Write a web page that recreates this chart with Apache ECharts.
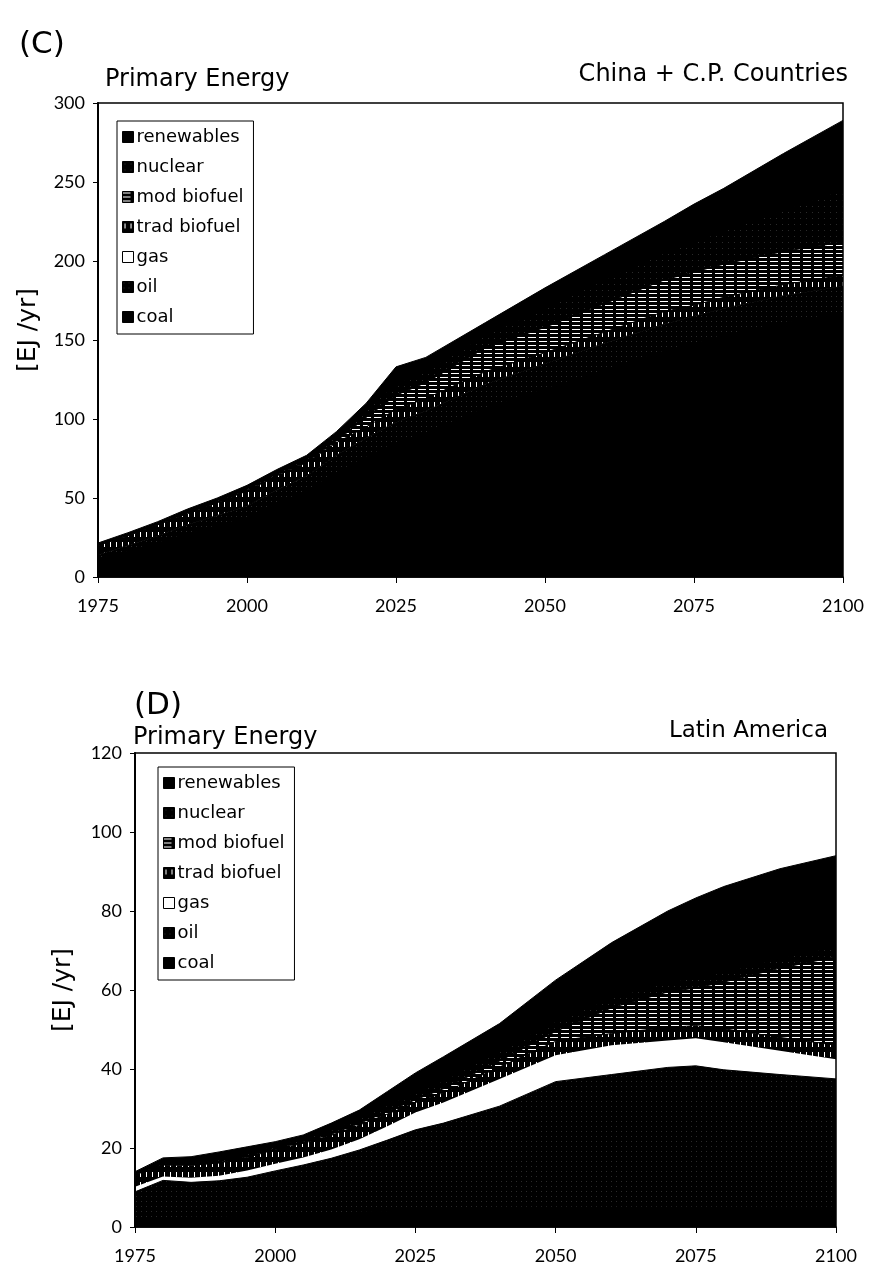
<!DOCTYPE html>
<html>
<head>
<meta charset="utf-8">
<script src="https://cdn.jsdelivr.net/npm/echarts@6/dist/echarts.min.js"></script>
<style>
  html, body { margin: 0; padding: 0; background: #fff; }
  #chart { width: 877px; height: 1266px; }
</style>
</head>
<body>
<div id="chart"></div>
<script>
// shared x values
const years = [1975, 1980, 1985, 1990, 1995, 2000, 2005, 2010, 2015, 2020, 2025, 2030, 2040, 2050, 2060, 2070, 2075, 2080, 2090, 2100];
const names = ['renewables', 'nuclear', 'mod biofuel', 'trad biofuel', 'gas', 'oil', 'coal'];

// (C) China + C.P. Countries  [EJ/yr]
const cCoal  = [11.5, 16.5, 21.5, 27.5, 32.5, 37.5, 46.5, 54.5, 66, 76, 85, 91, 107, 119, 131, 143, 148, 153, 161, 167];
const cOil   = [2.5, 3.5, 4.5, 5.5, 6.5, 7.5, 8.5, 9.5, 11, 12, 13, 14, 15, 16, 17, 17, 17, 17, 17, 17];
const cGas   = [0, 0, 0, 0, 0, 0, 0, 0, 0, 0, 0, 0, 0, 0, 0, 0, 0, 0, 0, 0];
const cTrad  = [6, 6, 7, 7, 8, 9.5, 9, 8.5, 8, 7, 8, 8, 8, 7, 7, 8, 7, 7, 7, 7];
const cMod   = [0.3, 0.3, 0.3, 0.5, 0.5, 0.5, 0.5, 0.5, 1, 6, 9, 10, 15, 16, 18, 20, 21, 21, 21, 21];
const cNuc   = [0.5, 0.7, 0.7, 1, 1, 1, 1.5, 1.5, 3, 5, 7, 7, 8, 12, 15, 17, 19, 21, 26, 33];
const cRenew = [0.7, 1, 1, 1.5, 1.5, 2, 2, 2.5, 3, 4, 11, 9, 8, 13, 16, 20, 24, 27, 36, 44];

// (D) Latin America  [EJ/yr]
const dCoal  = [2.0, 2.3, 2.5, 2.5, 2.8, 3.0, 3.2, 3.5, 3.8, 4.0, 4.5, 4.8, 5.0, 5.0, 5.0, 5.0, 5.0, 5.0, 5.0, 5.0];
const dOil   = [6.9, 9.5, 8.8, 9.2, 9.8, 11.2, 12.5, 13.9, 15.7, 18.0, 20.1, 21.5, 25.6, 31.8, 33.6, 35.4, 35.8, 34.8, 33.6, 32.5];
const dGas   = [1.3, 1.0, 1.2, 1.3, 1.7, 1.8, 1.9, 2.2, 2.7, 3.5, 4.4, 5.2, 6.9, 6.7, 7.4, 6.8, 7.0, 7.0, 6.0, 5.0];
const dTrad  = [3.0, 2.9, 3.1, 3.2, 3.3, 3.6, 3.6, 3.6, 3.6, 3.1, 2.5, 2.5, 3.0, 3.5, 3.0, 3.3, 3.2, 3.4, 3.4, 3.5];
const dMod   = [0.1, 0.1, 0.1, 0.1, 0.2, 0.2, 0.3, 0.3, 0.4, 0.6, 0.7, 1.0, 1.5, 2.5, 6.5, 9.0, 9.5, 11.8, 17.5, 22.4];
const dNuc   = [0.2, 0.4, 0.5, 0.7, 0.8, 0.7, 0.7, 1.0, 1.2, 1.6, 1.8, 2.0, 2.5, 2.5, 2.5, 2.5, 2.5, 2.5, 2.5, 2.6];
const dRenew = [0.5, 1.3, 1.6, 2.0, 1.7, 1.1, 1.1, 1.8, 2.2, 3.5, 5.0, 6.1, 7.0, 10.5, 14.0, 18.0, 20.3, 21.7, 22.7, 23.0];

function makePattern(w, h, bg, fg, rects) {
    const c = document.createElement('canvas');
    c.width = w; c.height = h;
    const ctx = c.getContext('2d');
    ctx.fillStyle = bg;
    ctx.fillRect(0, 0, w, h);
    ctx.fillStyle = fg;
    rects.forEach(r => ctx.fillRect(r[0], r[1], r[2], r[3]));
    return {image: c, repeat: 'repeat'};
}

const fills = {
    'coal': '#000',
    'oil': makePattern(5, 5, '#000', '#2a2a2a', [[1, 1, 1, 1]]),
    'gas': '#fff',
    'trad biofuel': makePattern(6, 10, '#000', '#fff', [[2, 2, 1, 5]]),
    'mod biofuel': makePattern(11, 4, '#000', '#fff', [[0, 1, 8, 1]]),
    'nuclear': makePattern(6, 6, '#000', '#2a2a2a', [[2, 2, 1, 1]]),
    'renewables': '#000'
};

const stackOrder = ['coal', 'oil', 'gas', 'trad biofuel', 'mod biofuel', 'nuclear', 'renewables'];

// the built-in stack does not work on a value x axis here, so the running
// totals are summed by hand and the areas are drawn top layer first
function buildSeries(sets, idx) {
    const out = [];
    let run = years.map(() => 0);
    const tops = sets.map(vals => {
        run = run.map((v, i) => v + vals[i]);
        return run.slice();
    });
    for (let k = stackOrder.length - 1; k >= 0; k--) {
        const name = stackOrder[k];
        out.push({
            name: name,
            type: 'line',
            xAxisIndex: idx,
            yAxisIndex: idx,
            symbol: 'none',
            z: 2,
            data: years.map((y, i) => [y, +tops[k][i].toFixed(2)]),
            // a thin black edge hides the seam between neighbouring areas
            lineStyle: name === 'gas' ? {width: 0} : {width: 1, color: '#000'},
            areaStyle: {color: fills[name], opacity: 1},
            itemStyle: {color: fills[name]},
            emphasis: {disabled: true}
        });
    }
    return out;
}

const sansG = 'Lato';
const sansT = 'DejaVu Sans';

function xAxisOpt(idx) {
    return {
        type: 'value', gridIndex: idx, min: 1975, max: 2100, interval: 25, z: 5,
        axisLine: {lineStyle: {color: '#000', width: 1.5}},
        axisTick: {length: 6, lineStyle: {color: '#000'}},
        axisLabel: {color: '#000', fontFamily: sansG, fontSize: 18, margin: 20, formatter: v => String(v)},
        splitLine: {show: false}
    };
}
function yAxisOpt(idx, max, step) {
    return {
        type: 'value', gridIndex: idx, min: 0, max: max, interval: step, z: 5,
        axisLine: {show: true, lineStyle: {color: '#000', width: 2}},
        axisTick: {show: true, length: 5, lineStyle: {color: '#000'}},
        axisLabel: {color: '#000', fontFamily: sansG, fontSize: 18, margin: 13},
        splitLine: {show: false}
    };
}
function legendOpt(left, top) {
    return {
        orient: 'vertical', left: left, top: top,
        data: names, icon: 'rect', itemWidth: 11, itemHeight: 11, itemGap: 10,
        padding: [6, 10, 7, 5],
        backgroundColor: '#fff', borderColor: '#000', borderWidth: 1,
        itemStyle: {borderColor: '#000', borderWidth: 1},
        textStyle: {color: '#000', fontFamily: sansT, fontSize: 18, lineHeight: 20, padding: [0, 0, 0, -2]},
        selectedMode: false
    };
}
function txt(x, y, text, size, align, rot) {
    return {
        type: 'text', x: x, y: y, rotation: rot || 0,
        style: {text: text, fill: '#000', font: size + 'px "' + sansT + '"', textAlign: align, textVerticalAlign: 'middle'}
    };
}

const seriesList = buildSeries([cCoal, cOil, cGas, cTrad, cMod, cNuc, cRenew], 0)
    .concat(buildSeries([dCoal, dOil, dGas, dTrad, dMod, dNuc, dRenew], 1));

const option = {
    animation: false,
    backgroundColor: '#fff',
    grid: [
        {left: 98, top: 103, width: 745, height: 474, show: true, borderColor: '#000', borderWidth: 1.5, z: 5},
        {left: 135, top: 753, width: 701, height: 474, show: true, borderColor: '#000', borderWidth: 1.5, z: 5}
    ],
    xAxis: [xAxisOpt(0), xAxisOpt(1)],
    yAxis: [yAxisOpt(0, 300, 50), yAxisOpt(1, 120, 20)],
    legend: [legendOpt(117, 121), legendOpt(158, 767)],
    graphic: [
        txt(19, 45, '(C)', 31, 'left'),
        txt(105, 80, 'Primary Energy', 24, 'left'),
        txt(848, 75, 'China + C.P. Countries', 24, 'right'),
        txt(28, 330, '[EJ /yr]', 25, 'center', Math.PI / 2),
        txt(134, 706, '(D)', 31, 'left'),
        txt(133, 738, 'Primary Energy', 24, 'left'),
        txt(828, 731, 'Latin America', 23, 'right'),
        txt(63, 990, '[EJ /yr]', 25, 'center', Math.PI / 2)
    ],
    series: seriesList
};

const myChart = echarts.init(document.getElementById('chart'));
myChart.setOption(option);
</script>
</body>
</html>
